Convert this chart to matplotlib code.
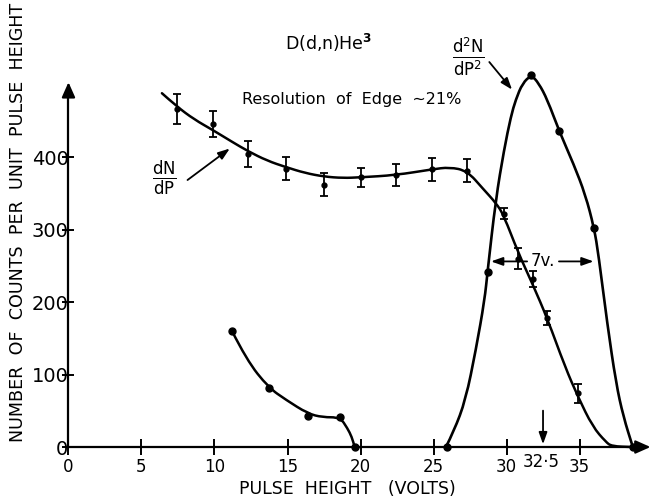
import numpy as np
import matplotlib
matplotlib.use("Agg")
import matplotlib.pyplot as plt
from matplotlib.path import Path
from matplotlib.patches import PathPatch

# dN/dP measured points (volts, counts) with error bars
dndp_x = [7.4, 9.9, 12.3, 14.9, 17.5, 20.0, 22.4, 24.9, 27.3, 29.8, 30.8, 31.8, 32.8, 34.9]
dndp_y = [466, 445, 404, 384, 362, 372, 375, 383, 381, 322, 260, 232, 178, 74]
dndp_err = [21, 18, 18, 16, 16, 13, 15, 16, 16, 8, 14, 11, 10, 13]

# hand drawn curve through dN/dP
dndp_cx = [6.4, 7.4, 8.6, 9.9, 11.2, 12.3, 13.6, 14.9, 16.2, 17.5, 18.8, 20.0, 22.4, 24.9,
           26.1, 27.3, 28.4, 29.3, 29.8, 30.8, 31.8, 32.8, 34.0, 34.9, 35.9, 36.8, 37.2, 38.6]
dndp_cy = [488, 470, 452, 437, 421, 408, 395, 386, 378, 373, 371, 372, 375, 383,
           386, 381, 356, 336, 320, 268, 224, 177, 111, 69, 28, 7, 1, 0]

# d2N/dP2 points and curve
d2_x = [25.9, 28.7, 31.7, 33.6, 36.0, 38.65]
d2_y = [0, 242, 513, 436, 302, 0]
d2_cx = [25.85, 26.4, 27.2, 27.9, 28.5, 28.7, 29.26, 29.83, 30.3, 30.63, 31.1, 31.7,
         32.2, 32.8, 33.6, 34.6, 35.4, 36.0, 36.3, 36.9, 37.5, 38.0, 38.65]
d2_cy = [0, 22, 65, 134, 203, 242, 341, 410, 456, 479, 502, 513,
         502, 479, 436, 390, 348, 302, 265, 170, 88, 42, 0]

# low energy group
low_x = [11.2, 13.7, 16.4, 18.6, 19.6]
low_y = [160, 82, 43, 41, 0]
low_cx = [11.2, 12.2, 13.7, 14.9, 16.4, 17.4, 18.6, 19.1, 19.4, 19.6]
low_cy = [160, 120, 82, 65, 46, 41, 41, 26, 14, 0]

xticks = [0, 5, 10, 15, 20, 25, 30, 35]
yticks = [0, 100, 200, 300, 400]
ytick_labels = ["0", "100", "200", "300", "400"]

plt.rcParams['font.family'] = ['DejaVu Sans']
plt.rcParams['mathtext.fontset'] = 'dejavusans'


def smooth_curve(ax, xs, ys, lw):
    # quadratic bezier through the midpoints, read points act as control points
    pts = list(zip(xs, ys))
    verts = [pts[0]]
    codes = [Path.MOVETO]
    for i in range(1, len(pts) - 1):
        mid = ((pts[i][0] + pts[i + 1][0]) / 2, (pts[i][1] + pts[i + 1][1]) / 2)
        verts += [pts[i], mid]
        codes += [Path.CURVE3, Path.CURVE3]
    verts.append(pts[-1])
    codes.append(Path.LINETO)
    ax.add_patch(PathPatch(Path(verts, codes), fill=False, lw=lw, edgecolor='black',
                           capstyle='round', joinstyle='round'))


fig = plt.figure(figsize=(6.54, 5.0), dpi=100)
ax = fig.add_axes([0, 0, 1, 1])
ax.set_xlim(-4.69, 40.1)
ax.set_ylim(-73.1, 616.6)

for s in ['top', 'right']:
    ax.spines[s].set_visible(False)
ax.spines['left'].set_position(('data', 0))
ax.spines['bottom'].set_position(('data', 0))
ax.spines['left'].set_bounds(0, 490)
ax.spines['bottom'].set_bounds(0, 39.2)
ax.spines['left'].set_linewidth(1.6)
ax.spines['bottom'].set_linewidth(1.6)

# axis arrow heads
ax.annotate('', xy=(0, 507), xytext=(0, 480),
            arrowprops=dict(arrowstyle='-|>,head_length=0.9,head_width=0.4', color='black', lw=1.6))
ax.annotate('', xy=(40.05, 0), xytext=(38.5, 0),
            arrowprops=dict(arrowstyle='-|>,head_length=0.9,head_width=0.4', color='black', lw=1.6))

ax.set_xticks(xticks)
ax.set_xticklabels([str(t) for t in xticks])
ax.set_yticks(yticks)
ax.set_yticklabels(ytick_labels)
ax.tick_params(axis='x', direction='inout', length=12, width=1.4, labelsize=12, pad=2)
ax.tick_params(axis='y', direction='inout', length=9, width=1.4, labelsize=14, pad=-4.5)

# curves
smooth_curve(ax, dndp_cx, dndp_cy, 1.8)
smooth_curve(ax, d2_cx, d2_cy, 1.9)
smooth_curve(ax, low_cx, low_cy, 1.8)

ax.errorbar(dndp_x, dndp_y, yerr=dndp_err, fmt='o', color='black', ms=3.5,
            capsize=3, elinewidth=1.3, capthick=1.3)
ax.plot(d2_x, d2_y, 'o', color='black', ms=5)
ax.plot(low_x, low_y, 'o', color='black', ms=5)

# texts
ax.text(17.8, 557, r'D(d,n)He$^{\mathbf{3}}$', ha='center', va='center', fontsize=12.5)
ax.text(19.4, 479, 'Resolution  of  Edge  \u223c21%', ha='center', va='center', fontsize=11.5)
ax.text(6.55, 371, r'$\mathsf{\frac{dN}{dP}}$', ha='center', va='center', fontsize=17)
ax.text(27.4, 538, r'$\mathsf{\frac{d^2N}{dP^2}}$', ha='center', va='center', fontsize=17)

ax.annotate('', xy=(11.2, 414), xytext=(8.0, 366),
            arrowprops=dict(arrowstyle='-|>,head_length=0.7,head_width=0.25', color='black', lw=1.3))
ax.annotate('', xy=(30.5, 490), xytext=(28.7, 534),
            arrowprops=dict(arrowstyle='-|>,head_length=0.7,head_width=0.25', color='black', lw=1.3))

# 7 v. width marker
ax.annotate('', xy=(28.75, 256), xytext=(31.6, 256),
            arrowprops=dict(arrowstyle='-|>,head_length=0.7,head_width=0.25', color='black', lw=1.3))
ax.annotate('', xy=(36.15, 256), xytext=(33.4, 256),
            arrowprops=dict(arrowstyle='-|>,head_length=0.7,head_width=0.25', color='black', lw=1.3))
ax.text(32.5, 256, '7v.', ha='center', va='center', fontsize=12)

# 32.5 marker
ax.annotate('', xy=(32.5, 0), xytext=(32.5, 54),
            arrowprops=dict(arrowstyle='-|>,head_length=0.7,head_width=0.25', color='black', lw=1.3))
ax.text(32.4, -21, '32\u00b75', ha='center', va='center', fontsize=12)

ax.text(19.07, -58, 'PULSE  HEIGHT   (VOLTS)', ha='center', va='center', fontsize=12.5)
ax.text(-3.46, 310, 'NUMBER  OF  COUNTS  PER  UNIT  PULSE  HEIGHT', ha='center', va='center',
        rotation=90, fontsize=12.6)

fig.savefig('out.png', dpi=100)
